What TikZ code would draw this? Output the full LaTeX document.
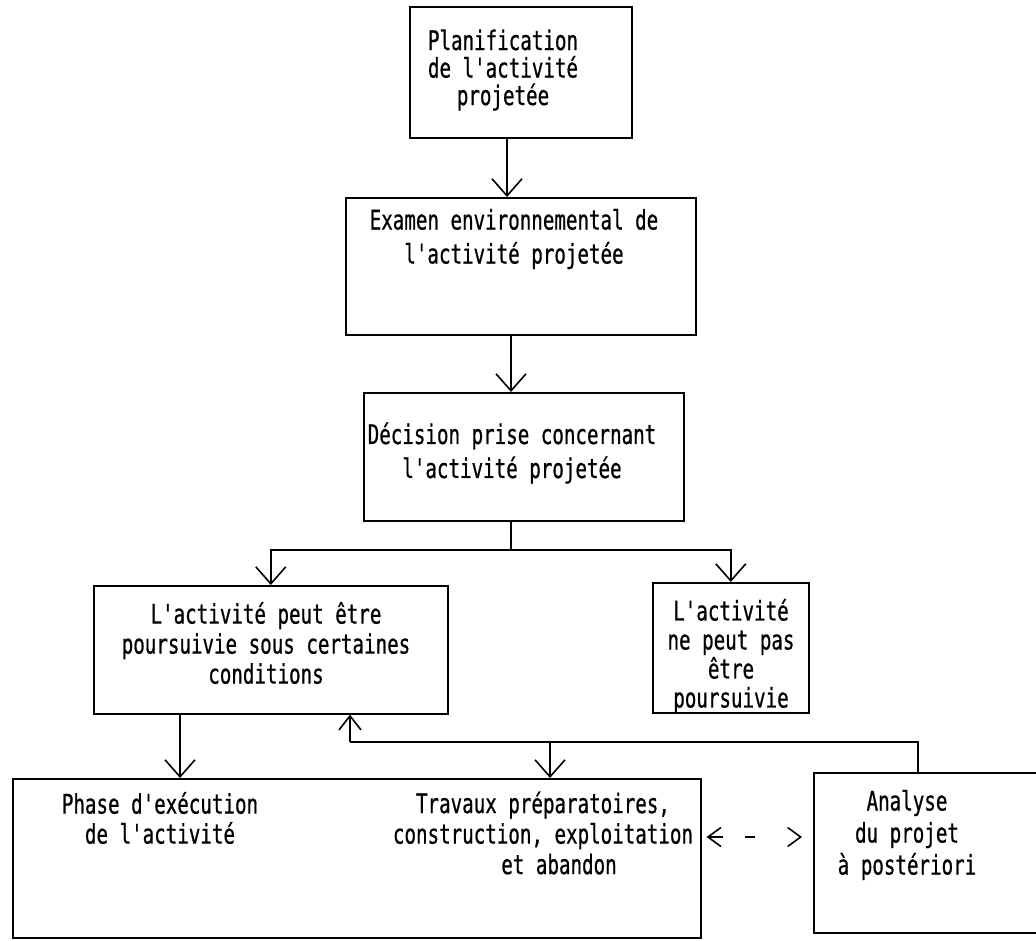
\documentclass[tikz,border=0pt]{standalone}
\usepackage{fontspec}
\newfontfamily\dm[FakeStretch=0.71,FakeBold=0.7]{DejaVu Sans Mono}
\usetikzlibrary{arrows.meta}
\begin{document}
\begin{tikzpicture}[x=1pt,y=-1pt,
  box/.style={draw, line width=1.6pt, inner sep=0pt, anchor=north west},
  txt/.style={align=center, inner sep=0pt},
  conn/.style={line width=1.8pt},
  arr/.style={conn, -{Straight Barb[length=17pt,width=30pt,line width=1.6pt]}},
  uparr/.style={conn, -{Straight Barb[length=14pt,width=22pt,line width=1.6pt]}},
  darr/.style={conn, {Straight Barb[length=13pt,width=19pt,line width=1.6pt]}-{Straight Barb[length=13pt,width=19pt,line width=1.6pt]}, dash pattern=on 14pt off 22pt on 10pt off 100pt}
]
\useasboundingbox[fill=white] (0,0) rectangle (1036,940);

% boxes
\node[box, minimum width=222pt, minimum height=131pt] (b1) at (409,6) {};
\node[box, minimum width=350pt, minimum height=137pt] (b2) at (345,197) {};
\node[box, minimum width=320pt, minimum height=128pt] (b3) at (363,392) {};
\node[box, minimum width=354pt, minimum height=128pt] (b4) at (93,585) {};
\node[box, minimum width=156pt, minimum height=130pt] (b5) at (652,582) {};
\node[box, minimum width=688pt, minimum height=159pt] (b6) at (12,778) {};
\node[box, minimum width=240pt, minimum height=160pt] (b7) at (813,772) {};

% texts
\node[txt, font=\dm\fontsize{27}{27.5}\selectfont] (t1) at (503,70) {Planification\\de l'activité\\projetée};
\node[txt, font=\dm\fontsize{27}{34}\selectfont] (t2) at (514,239) {Examen environnemental de\\l'activité projetée};
\node[txt, font=\dm\fontsize{27}{34}\selectfont] (t3) at (512,453) {Décision prise concernant\\l'activité projetée};
\node[txt, font=\dm\fontsize{27}{30}\selectfont] (t4) at (266,643) {L'activité peut être\\poursuivie sous certaines\\conditions};
\node[txt, font=\dm\fontsize{27}{29}\selectfont] (t5) at (731,656) {L'activité\\ne peut pas\\être\\poursuivie};
\node[txt, font=\dm\fontsize{27}{30}\selectfont] (t6a) at (160,818) {Phase d'exécution\\de l'activité};
\node[txt, font=\dm\fontsize{27}{30.5}\selectfont] (t6b) at (543,833) {Travaux préparatoires,\\construction, exploitation\\\hspace*{32pt}et abandon};
\node[txt, font=\dm\fontsize{27}{32}\selectfont] (t7) at (907,835) {Analyse\\du projet\\à postériori};

% helper coordinates
\coordinate (x507) at (507,0);
\coordinate (x511) at (511,0);
\coordinate (j) at (511,550);
\coordinate (x180) at (180,0);
\coordinate (r) at (918,742);
\coordinate (l) at (350,742);
\coordinate (m) at (550,742);
\coordinate (dy) at (0,837);

% connectors
\draw[arr] (b1.south -| x507) -- (b2.north -| x507);
\draw[arr] (b2.south -| x511) -- (b3.north -| x511);
\draw[conn] (b3.south -| x511) -- (j);
\draw[arr] (j) -| (b4.north);
\draw[arr] (j) -| (b5.north);
\draw[arr] (b4.south -| x180) -- (b6.north -| x180);
\draw[conn] (b7.north -| r) -- (r) -- (l);
\draw[uparr] (l) -- (b4.south -| l);
\draw[arr] (m) -- (b6.north -| m);
\draw[darr, shorten <=5pt, shorten >=11pt] (b6.east |- dy) -- (b7.west |- dy);
\end{tikzpicture}
\end{document}
